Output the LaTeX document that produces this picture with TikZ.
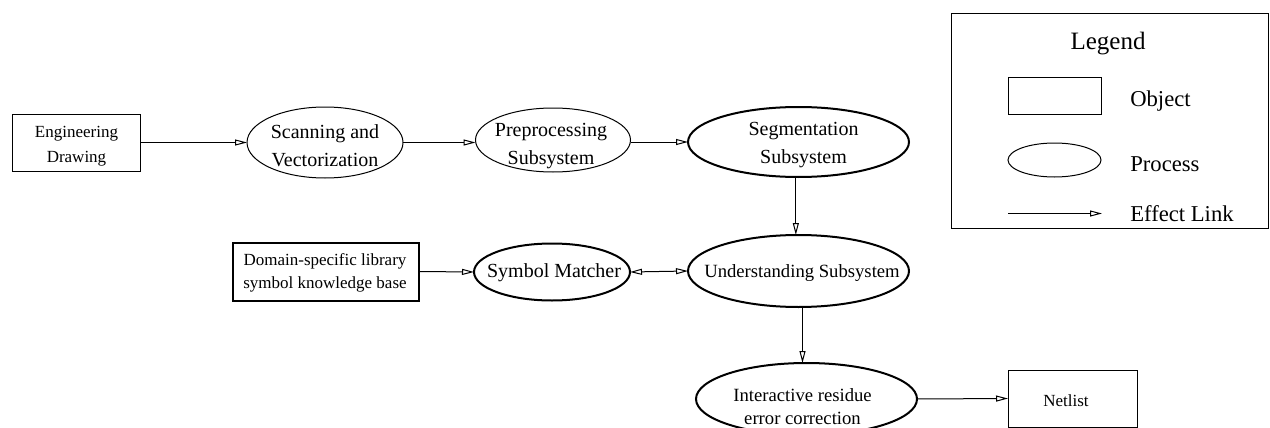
\documentclass[tikz,border=0pt]{standalone}
\usepackage{fontspec}
\setmainfont{Liberation Serif}
\usetikzlibrary{arrows.meta,shapes.geometric}
\begin{document}
\begin{tikzpicture}[x=0.75pt,y=-0.75pt,
  obj/.style={draw,rectangle,line width=0.75pt,inner sep=0,outer sep=0},
  objthick/.style={obj,line width=1.5pt},
  proc/.style={draw,ellipse,line width=0.75pt,inner sep=0,outer sep=0},
  procthick/.style={proc,line width=1.5pt},
  boxtext/.style={inner sep=0,align=center,font=\fontsize{12.75pt}{18.75pt}\selectfont},
  proctext/.style={inner sep=0,align=center,font=\fontsize{15pt}{21pt}\selectfont},
  legtext/.style={inner sep=0,anchor=base west,font=\fontsize{17pt}{20pt}\selectfont},
  link/.style={line width=0.75pt,-{Triangle[open,length=9pt,width=4.5pt]}},
  dlink/.style={line width=0.75pt,{Triangle[open,length=9pt,width=4.5pt]}-{Triangle[open,length=9pt,width=4.5pt]}}
]
\useasboundingbox (0,0) rectangle (1270,428);

% objects
\node[obj,minimum width=96pt,minimum height=42.75pt] (eng) at (76,142.5) {};
\node[boxtext] (engt) at (76.5,146) {Engineering\\Drawing};

\node[objthick,minimum width=139.5pt,minimum height=43.5pt] (dom) at (325.5,271.5) {};
\node[boxtext,font=\fontsize{12.75pt}{17.25pt}\selectfont] (domt) at (325,272.5) {Domain-specific library\\symbol knowledge base};

\node[obj,minimum width=96.75pt,minimum height=42.75pt] (net) at (1072.5,398.5) {};
\node[boxtext] (nett) at (1066,401) {Netlist};

% processes
\node[proc,minimum width=117pt,minimum height=53.25pt] (scan) at (325,142.5) {};
\node[proctext] (scant) at (325,146) {Scanning and\\Vectorization};

\node[proc,minimum width=116.25pt,minimum height=48pt] (pre) at (553,140) {};
\node[proctext] (pret) at (551,146) {Preprocessing\\Subsystem};

\node[procthick,minimum width=165.75pt,minimum height=52.5pt] (seg) at (798.5,142) {};
\node[proctext] (segt) at (803.5,145.5) {Segmentation\\Subsystem};

\node[procthick,minimum width=165.75pt,minimum height=54pt] (und) at (798.5,271) {};
\node[proctext,font=\fontsize{14pt}{20pt}\selectfont] (undt) at (802,273.5) {Understanding Subsystem};

\node[procthick,minimum width=117pt,minimum height=42.75pt] (sym) at (552,272) {};
\node[proctext] (symt) at (554,272.5) {Symbol Matcher};

\node[procthick,minimum width=165.75pt,minimum height=54pt] (int) at (806.5,399) {};
\node[proctext,font=\fontsize{14pt}{17.25pt}\selectfont] (intt) at (802.5,407) {Interactive residue\\error correction};

% links
\draw[link] (eng.east) -- (scan.west);
\draw[link] (scan.east) -- (scan.east -| pre.west);
\draw[link] (seg.west -| pre.east) -- (seg.west);
\draw[link] ([xshift=-2pt]seg.south) -- ([xshift=-2pt]und.north);
\draw[link] (dom.east) -- (sym.west);
\draw[dlink] (sym.east) -- (und.west);
\draw[link] ([xshift=3pt]und.south) -- ([xshift=3pt]und.south |- int.north);
\draw[link] (int.east) -- (net.west);

% legend
\node[obj,minimum width=237.75pt,minimum height=160.5pt] (leg) at (1109.5,121) {};
\node[inner sep=0,font=\fontsize{18.75pt}{22pt}\selectfont] (legt) at (1108,43.5) {Legend};
\node[obj,minimum width=69.75pt,minimum height=27pt] (legobj) at (1054.5,96) {};
\node[legtext] (legobjt) at (1130,107) {Object};
\node[proc,minimum width=69.75pt,minimum height=25.5pt] (legproc) at (1054.5,160) {};
\node[legtext] (legproct) at (1130,171) {Process};
\coordinate (la) at (1008,213.5);
\coordinate (lb) at (1102,213.5);
\draw[link] (la) -- (lb);
\node[legtext] (leglinkt) at (1130,221.5) {Effect Link};
\end{tikzpicture}
\end{document}
